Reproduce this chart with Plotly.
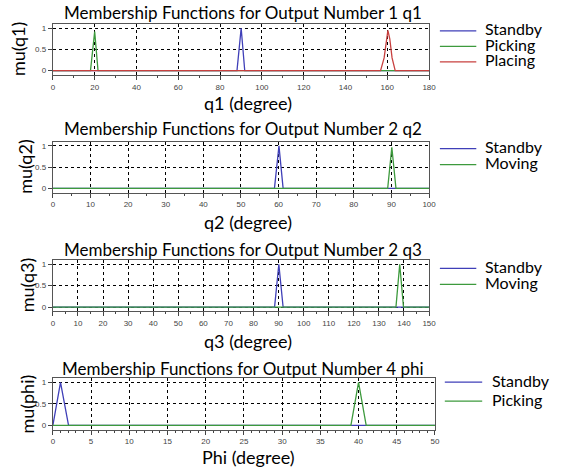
import plotly.graph_objects as go

W, H = 563, 468

# ---------------- data ----------------
q1_standby_x = [0, 88.1, 90.1, 91.8, 180]
q1_standby_y = [0, 0, 1.0, 0, 0]
q1_picking_x = [0, 18.0, 20.0, 21.6, 180]
q1_picking_y = [0, 0, 0.92, 0, 0]
q1_placing_x = [0, 156.8, 158.5, 159.6, 160.3, 161.2, 162.3, 163.8, 180]
q1_placing_y = [0, 0, 0.3, 0.75, 0.95, 0.75, 0.3, 0, 0]

q2_standby_x = [0, 58.9, 60.1, 61.2, 100]
q2_standby_y = [0, 0, 1.0, 0, 0]
q2_moving_x = [0, 89.0, 90.1, 91.2, 100]
q2_moving_y = [0, 0, 0.97, 0, 0]

q3_standby_x = [0, 88.4, 90.1, 91.8, 150]
q3_standby_y = [0, 0, 1.0, 0, 0]
q3_moving_x = [0, 136.8, 138.3, 139.8, 150]
q3_moving_y = [0, 0, 1.0, 0, 0]

phi_standby_x = [0, 1.0, 2.05, 50]
phi_standby_y = [0, 1.0, 0, 0]
phi_picking_x = [0, 39.0, 40.0, 41.0, 50]
phi_picking_y = [0, 0, 1.0, 0, 0]

titles = ["Membership Functions for Output Number 1 q1",
          "Membership Functions for Output Number 2 q2",
          "Membership Functions for Output Number 2 q3",
          "Membership Functions for Output Number 4 phi"]
xlabels = ["q1 (degree)", "q2 (degree)", "q3 (degree)", "Phi (degree)"]
ylabels = ["mu(q1)", "mu(q2)", "mu(q3)", "mu(phi)"]
legend_names = [["Standby", "Picking", "Placing"],
                ["Standby", "Moving"],
                ["Standby", "Moving"],
                ["Standby", "Picking"]]
x_ranges = [[0, 180], [0, 100], [0, 150], [0, 50]]
x_dticks = [20, 10, 10, 5]
x_minor = [10, 5, 5, 1]
y_ticks = [0, 0.5, 1]

BLUE = "#3f3fb8"
GREEN = "#3d9a3d"
RED = "#c8403f"

# ---------------- layout geometry (pixels) ----------------
panels = [  # left, right, top, bottom
    (51.7, 434, 24, 75),
    (51.7, 434, 142, 193),
    (51.7, 434, 260.5, 312),
    (51.7, 440, 379, 430.5),
]
title_y = [13, 128.5, 250, 369]
xtitle_y = [103, 222, 342, 458]
ytitle_x = [17, 24, 25, 25]
legend_geo = [  # line x0, x1, text x, list of y
    (445, 482, 489, [29, 44.5, 60]),
    (445, 482, 489, [147, 163]),
    (445, 482, 489, [267, 283]),
    (450, 488, 496, [381, 400]),
]

def fx(p):
    return p / W

def fy(p):
    return 1 - p / H

fig = go.Figure()

series = [
    [(q1_standby_x, q1_standby_y, BLUE), (q1_picking_x, q1_picking_y, GREEN), (q1_placing_x, q1_placing_y, RED)],
    [(q2_standby_x, q2_standby_y, BLUE), (q2_moving_x, q2_moving_y, GREEN)],
    [(q3_standby_x, q3_standby_y, BLUE), (q3_moving_x, q3_moving_y, GREEN)],
    [(phi_standby_x, phi_standby_y, BLUE), (phi_picking_x, phi_picking_y, GREEN)],
]

annotations = []
shapes = []
layout_axes = {}
FONT = "Lato"

for i in range(4):
    sfx = "" if i == 0 else str(i + 1)
    xa, ya = "x" + sfx, "y" + sfx
    for (xs, ys, col), nm in zip(series[i], legend_names[i]):
        fig.add_trace(go.Scatter(x=xs, y=ys, mode="lines", name=nm,
                                 line=dict(color=col, width=1.3),
                                 xaxis=xa, yaxis=ya, showlegend=False))
    l, r, t, b = panels[i]
    layout_axes["xaxis" + sfx] = dict(
        domain=[fx(l), fx(r)], anchor=ya, range=x_ranges[i],
        tick0=0, dtick=x_dticks[i], ticks="outside", ticklen=4, tickcolor="#444",
        minor=dict(dtick=x_minor[i], ticks="outside", ticklen=2, tickcolor="#444"),
        showgrid=True, gridcolor="black", gridwidth=1, griddash="3px,3px",
        showline=True, linecolor="#555", linewidth=1.2, mirror=True,
        zeroline=False, tickfont=dict(family="Liberation Sans", size=8, color="#444"),
        fixedrange=True)
    layout_axes["yaxis" + sfx] = dict(
        domain=[fy(b), fy(t)], anchor=xa, range=[-0.1, 1.1],
        tickvals=y_ticks, ticktext=["0", "0.5", "1"], ticks="outside", ticklen=4, tickcolor="#444",
        showgrid=True, gridcolor="black", gridwidth=1, griddash="3px,3px",
        showline=True, linecolor="#555", linewidth=1.2, mirror=True,
        zeroline=False, tickfont=dict(family="Liberation Sans", size=8, color="#444"),
        fixedrange=True)
    # title
    annotations.append(dict(text=titles[i], x=fx(245), y=fy(title_y[i]), xref="paper", yref="paper",
                            xanchor="center", yanchor="middle", showarrow=False,
                            font=dict(family=FONT, size=17, color="black")))
    annotations.append(dict(text=xlabels[i], x=fx(250), y=fy(xtitle_y[i]), xref="paper", yref="paper",
                            xanchor="center", yanchor="middle", showarrow=False,
                            font=dict(family=FONT, size=18, color="black")))
    annotations.append(dict(text=ylabels[i], x=fx(ytitle_x[i]), y=fy((t + b) / 2), xref="paper", yref="paper",
                            xanchor="center", yanchor="middle", showarrow=False, textangle=-90,
                            font=dict(family=FONT, size=18, color="black")))
    # legend
    lx0, lx1, tx, ys_ = legend_geo[i]
    for (xs, ys, col), nm, yy in zip(series[i], legend_names[i], ys_):
        shapes.append(dict(type="line", xref="paper", yref="paper",
                           x0=fx(lx0), x1=fx(lx1), y0=fy(yy + 2), y1=fy(yy + 2),
                           line=dict(color=col, width=1.3)))
        annotations.append(dict(text=nm, x=fx(tx), y=fy(yy), xref="paper", yref="paper",
                                xanchor="left", yanchor="middle", showarrow=False,
                                font=dict(family=FONT, size=16, color="black")))

fig.update_layout(
    width=W, height=H, margin=dict(l=0, r=0, t=0, b=0),
    paper_bgcolor="white", plot_bgcolor="white",
    showlegend=False, annotations=annotations, shapes=shapes,
    **layout_axes)

fig.write_html("out.html")
